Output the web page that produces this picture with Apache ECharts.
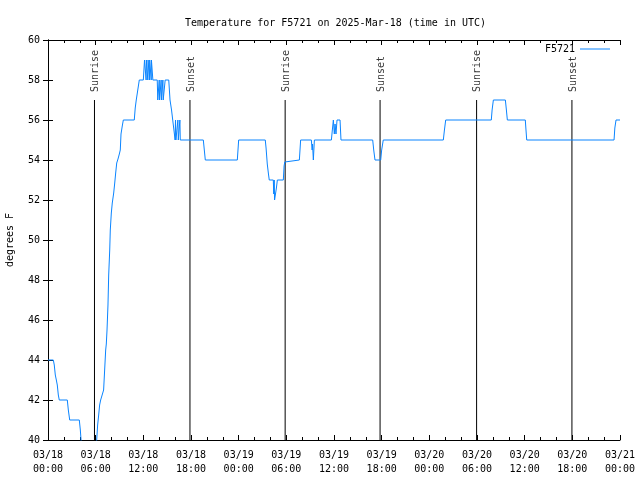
<!DOCTYPE html>
<html>
<head>
<meta charset="utf-8">
<script src="https://cdn.jsdelivr.net/npm/echarts@6/dist/echarts.min.js"></script>
<style>html,body{margin:0;padding:0;background:#fff}#c{width:640px;height:480px}</style>
</head>
<body>
<div id="c"></div>
<script>
var titleText = "Temperature for F5721 on 2025-Mar-18 (time in UTC)";
var seriesName = "F5721";
var xTickLabels = ["03/18\n00:00","03/18\n06:00","03/18\n12:00","03/18\n18:00","03/19\n00:00","03/19\n06:00","03/19\n12:00","03/19\n18:00","03/20\n00:00","03/20\n06:00","03/20\n12:00","03/20\n18:00","03/21\n00:00"];
var sunriseHours = [5.85, 29.85, 53.95];
var sunsetHours = [17.87, 41.8, 65.95];
// hours since 03/18 00:00 UTC
var hours = [0,0.67,0.79,0.92,1.05,1.17,1.3,1.42,2.43,2.56,2.73,3.94,4.07,4.25,4.5,5.9,6.13,6.25,6.38,6.5,6.63,6.88,7.0,7.13,7.26,7.34,7.43,7.55,7.64,7.77,7.84,7.97,8.09,8.27,8.40,8.52,8.65,8.81,8.98,9.10,9.19,9.35,9.48,10.86,10.98,11.11,11.3,11.49,12.0,12.1,12.15,12.3,12.35,12.38,12.52,12.56,12.6,12.73,12.77,12.8,12.95,12.99,13.02,13.15,13.2,13.25,13.75,13.82,13.97,14.0,14.05,14.2,14.24,14.28,14.42,14.46,14.5,14.62,14.75,15.2,15.36,15.55,15.7,15.85,16.0,16.05,16.1,16.3,16.35,16.4,16.55,16.6,16.65,19.55,19.8,23.83,24.0,27.35,27.45,27.6,27.75,27.85,28.36,28.42,28.47,28.52,28.66,28.75,28.87,29.62,29.72,29.8,29.96,31.64,31.8,33.15,33.25,33.3,33.4,33.53,35.67,35.79,35.92,36.04,36.13,36.25,36.38,36.76,36.88,40.87,41.0,41.16,41.88,42.0,42.2,49.76,49.9,50.06,55.8,55.9,56.06,57.57,57.7,57.82,60.08,60.15,60.26,71.25,71.35,71.5,72];
var temps = [44,44,43.75,43.25,43,42.75,42.25,42,42,41.5,41,41,40.5,39.5,39,39,40,40.75,41.25,41.75,42,42,42.5,43.5,44.5,44.8,45.5,46.75,48.25,49.5,50.5,51.35,51.85,52.35,52.85,53.35,53.85,54.05,54.3,54.5,55.3,55.7,56,56,56.6,57,57.5,58,58,58,59,59,58,59,59,58,59,59,58,59,59,58,59,59,58,58,58,57,57,58,57,57,58,57,57,58,57,57,58,58,57,56.5,56,55.5,55,56,55,55,56,55,55,56,55,55,54,54,55,55,54.6,53.8,53.3,53,53,52.3,53,52,52,52.6,53,53,53.7,53.9,54,54,55,55,54.5,54.8,54,55,55,55.5,56,55.3,55.8,55.3,56,56,55,55,54.5,54,54,54.5,55,55,55.5,56,56,56.5,57,57,56.5,56,56,55.6,55,55,55.6,56,56];

var font = "DejaVu Sans Mono";
var mainData = hours.map(function(h, i){ return [h, temps[i]]; });

var series = [{
  name: seriesName, type: 'line', data: mainData, showSymbol: false, symbol: 'none',
  lineStyle: {color: '#0a84ff', width: 1}, itemStyle: {color: '#0a84ff'}, clip: true, z: 3
}];
function addEvents(list, text) {
  list.forEach(function(h){
    series.push({type: 'line', data: [[h, 57], [h, 40]], showSymbol: false, symbol: 'none',
      lineStyle: {color: '#000', width: 1}, silent: true, z: 2});
  });
  series.push({type: 'scatter', data: list.map(function(h){ return [h, 57]; }), symbolSize: 0, silent: true,
    label: {show: true, formatter: text, position: [1, -8], rotate: 90, align: 'left', verticalAlign: 'middle',
      fontFamily: font, fontSize: 10, color: '#000'}});
}
addEvents(sunriseHours, 'Sunrise');
addEvents(sunsetHours, 'Sunset');

var xCommon = {type: 'value', min: 0, max: 72, interval: 6,
  axisLine: {show: true, lineStyle: {color: '#000', width: 1}},
  axisTick: {show: true, inside: true, length: 5, lineStyle: {color: '#000'}},
  minorTick: {show: true, splitNumber: 3, length: 3, lineStyle: {color: '#000'}},
  splitLine: {show: false}, minorSplitLine: {show: false}};
var yCommon = {type: 'value', min: 40, max: 60, interval: 2,
  axisLine: {show: true, lineStyle: {color: '#000', width: 1}},
  axisTick: {show: true, inside: true, length: 5, lineStyle: {color: '#000'}},
  splitLine: {show: false}};

var chart = echarts.init(document.getElementById('c'), null, {renderer: 'canvas'});
chart.setOption({
  animation: false,
  backgroundColor: '#fff',
  title: {text: titleText, left: 180, top: 13, textStyle: {fontFamily: font, fontSize: 10, fontWeight: 'normal', color: '#000'}},
  legend: {data: [seriesName], right: 30, top: 44, padding: 0, align: 'right', icon: 'rect', itemWidth: 30, itemHeight: 1, itemGap: 5,
    textStyle: {fontFamily: font, fontSize: 10, color: '#000'}},
  grid: {left: 48, right: 20, top: 40, bottom: 40, containLabel: false, outerBoundsMode: 'none'},
  xAxis: [
    Object.assign({}, xCommon, {position: 'bottom',
      axisLabel: {show: true, margin: 8, fontFamily: font, fontSize: 10, color: '#000', lineHeight: 14,
        formatter: function(v){ return xTickLabels[Math.round(v / 6)]; }}}),
    Object.assign({}, xCommon, {position: 'top', axisLabel: {show: false}})
  ],
  yAxis: [
    Object.assign({}, yCommon, {position: 'left', name: 'degrees F', nameLocation: 'middle', nameGap: 33, nameRotate: 90,
      nameTextStyle: {fontFamily: font, fontSize: 10, color: '#000'},
      axisLabel: {show: true, margin: 8, fontFamily: font, fontSize: 10, color: '#000'}}),
    Object.assign({}, yCommon, {position: 'right', axisLabel: {show: false}})
  ],
  series: series
});
</script>
</body>
</html>
